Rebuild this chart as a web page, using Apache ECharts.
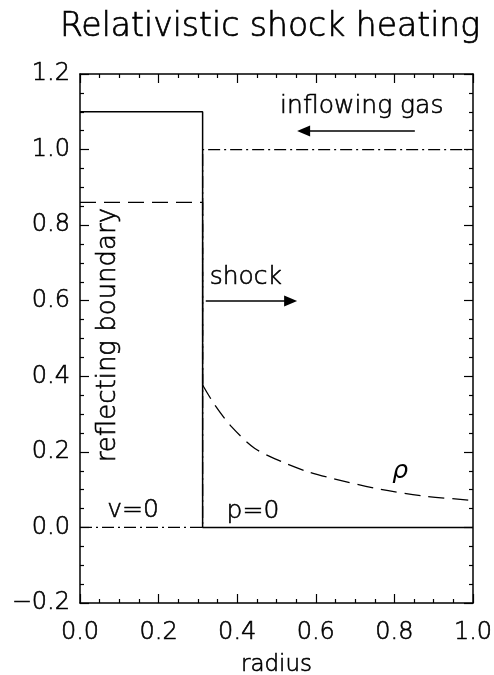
<!DOCTYPE html>
<html><head><meta charset="utf-8">
<script src="https://cdn.jsdelivr.net/npm/echarts@6/dist/echarts.min.js"></script>
<style>html,body{margin:0;padding:0;background:#fff}#c{width:494px;height:675px}</style>
</head><body><div id="c"></div>
<script>
// ---- data ----
const titleText = 'Relativistic shock heating';
const xTicks = [0, 0.2, 0.4, 0.6, 0.8, 1.0];
const yTicks = [-0.2, 0, 0.2, 0.4, 0.6, 0.8, 1.0, 1.2];
const shockX = 0.312;
// pressure (solid)
const pressureX = [0, 0.312, 0.312, 1.0];
const pressureY = [1.1, 1.1, 0, 0];
// velocity (dash-dot)
const velocityX = [0, 0.312, 0.312, 1.0];
const velocityY = [0, 0, 1.0, 1.0];
// density (dashed): post-shock plateau then pre-shock profile
const densityStepX = [0, 0.312, 0.312];
const densityStepY = [0.86, 0.86, 0.377];
const densityCurveX = [0.312, 0.343, 0.386, 0.445, 0.513, 0.581, 0.649, 0.763, 0.874, 0.988, 1.0];
const densityCurveY = [0.377, 0.324, 0.266, 0.209, 0.174, 0.147, 0.128, 0.101, 0.083, 0.0725, 0.071];
// annotations: text, x, y (data coords)
const noteText = ['inflowing gas', 'shock', 'reflecting boundary', 'v=0', 'p=0', 'ρ'];
const noteX = [0.717, 0.422, 0.072, 0.135, 0.44, 0.815];
const noteY = [1.115, 0.662, 0.509, 0.046, 0.043, 0.147];
// arrows: [x0, y0, x1, y1]
const arrowInflow = [0.852, 1.049, 0.569, 1.049];
const arrowShock = [0.32, 0.599, 0.536, 0.599];

// ---- chart ----
const zip = (a, b) => a.map((v, i) => [v, b[i]]);
const FONT = 'DejaVu Sans';
const WEIGHT = 200;
const EMB = { textBorderColor: '#000', textBorderWidth: 0.6 };
const fmt = v => (v < -1e-9 ? '\u2212' + Math.abs(v).toFixed(1) : Math.abs(v).toFixed(1));
const axisCommon = {
  type: 'value',
  axisLine: { show: true, onZero: false, lineStyle: { color: '#000', width: 1.5 } },
  axisTick: { show: true, inside: true, length: 9, lineStyle: { color: '#000', width: 1.2 } },
  minorTick: { show: true, splitNumber: 4, length: 4, lineStyle: { color: '#000', width: 1.2 } },
  splitLine: { show: false },
  minorSplitLine: { show: false }
};
const xBase = Object.assign({}, axisCommon, { min: xTicks[0], max: xTicks[xTicks.length - 1], interval: 0.2 });
const yBase = Object.assign({}, axisCommon, { min: yTicks[0], max: yTicks[yTicks.length - 1], interval: 0.2 });
const labelStyle = Object.assign({ color: '#000', fontFamily: FONT, fontWeight: WEIGHT, fontSize: 24, showMinLabel: true, showMaxLabel: true, formatter: fmt }, EMB);

const chart = echarts.init(document.getElementById('c'), null, { renderer: 'canvas' });
const lineBase = { type: 'line', showSymbol: false, symbol: 'none', silent: true, animation: false };

chart.setOption({
  backgroundColor: '#fff',
  animation: false,
  grid: { left: 80, right: 21, top: 74, bottom: 72, containLabel: false, outerBoundsMode: 'none' },
  graphic: [{
    type: 'text', x: 270, y: 27,
    style: { text: titleText, font: WEIGHT + ' 33px "DejaVu Sans"', fill: '#000', stroke: '#000', lineWidth: 0.7, textAlign: 'center', textVerticalAlign: 'middle' }
  }],
  xAxis: [
    Object.assign({}, xBase, {
      position: 'bottom',
      axisLabel: Object.assign({}, labelStyle, { margin: 18 }),
      name: 'radius', nameLocation: 'middle', nameGap: 51,
      nameTextStyle: Object.assign({ color: '#000', fontFamily: FONT, fontWeight: WEIGHT, fontSize: 23 }, EMB)
    }),
    Object.assign({}, xBase, { position: 'top', axisLabel: { show: false } })
  ],
  yAxis: [
    Object.assign({}, yBase, { position: 'left', axisLabel: Object.assign({}, labelStyle, { margin: 10 }) }),
    Object.assign({}, yBase, { position: 'right', axisLabel: { show: false } })
  ],
  series: [
    Object.assign({}, lineBase, { name: 'p', data: zip(pressureX, pressureY), lineStyle: { color: '#000', width: 1.5, type: 'solid' } }),
    Object.assign({}, lineBase, { name: 'v', data: zip(velocityX, velocityY), lineStyle: { color: '#000', width: 1.3, type: [12, 4, 2, 4] } }),
    Object.assign({}, lineBase, { name: 'rho step', data: zip(densityStepX, densityStepY), lineStyle: { color: '#000', width: 1.3, type: [16, 8] } }),
    Object.assign({}, lineBase, { name: 'rho', data: zip(densityCurveX, densityCurveY), smooth: 0.3, lineStyle: { color: '#000', width: 1.3, type: [16, 8] } }),
    {
      type: 'scatter', name: 'notes', symbolSize: 0, silent: true, animation: false,
      itemStyle: { opacity: 1 },
      data: noteText.map((t, i) => ({
        value: [noteX[i], noteY[i]],
        label: Object.assign({
          show: true, position: 'inside', formatter: t, color: '#000', opacity: 1,
          fontFamily: FONT, fontWeight: t === 'ρ' ? 'normal' : WEIGHT,
          fontSize: t === 'reflecting boundary' ? 26 : 25,
          fontStyle: t === 'ρ' ? 'italic' : 'normal',
          rotate: t === 'reflecting boundary' ? 90 : 0
        }, t === 'ρ' ? {} : EMB)
      })),
      markLine: {
        silent: true, animation: false,
        symbol: ['none', 'triangle'], symbolSize: [11, 13],
        label: { show: false },
        lineStyle: { color: '#000', width: 1.5, type: 'solid', opacity: 1 },
        itemStyle: { color: '#000' },
        data: [
          [{ coord: [arrowInflow[0], arrowInflow[1]] }, { coord: [arrowInflow[2], arrowInflow[3]] }],
          [{ coord: [arrowShock[0], arrowShock[1]] }, { coord: [arrowShock[2], arrowShock[3]] }]
        ]
      }
    }
  ]
});
</script></body></html>
